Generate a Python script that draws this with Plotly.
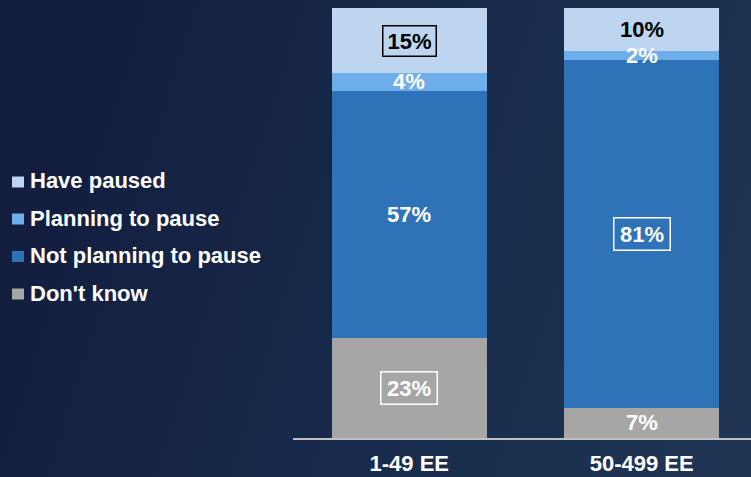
import base64
import plotly.graph_objects as go

# ---- data ----
categories = ["1-49 EE", "50-499 EE"]
dont_know = [23, 7]
not_planning = [57, 81]
planning = [4, 2]
have_paused = [15, 10]

# stacking order bottom -> top
series = [
    ("Don't know", dont_know),
    ("Not planning to pause", not_planning),
    ("Planning to pause", planning),
    ("Have paused", have_paused),
]

# ---- styles ----
colors = {
    "Don't know": "#A6A6A6",
    "Not planning to pause": "#2E73B8",
    "Planning to pause": "#6EAEEA",
    "Have paused": "#BDD5EE",
}
label_color = {
    "Don't know": "white",
    "Not planning to pause": "white",
    "Planning to pause": "white",
    "Have paused": "black",
}
# (series, category index) -> boxed label
boxed = {("Have paused", 0): "black", ("Don't know", 0): "white",
         ("Not planning to pause", 1): "white"}

W, H = 751, 477
ML, MR, MT, MB = 293, 0, 8, 39
PW, PH = W - ML - MR, H - MT - MB
FONT = "Liberation Sans, Arial, sans-serif"
FS = 22

fig = go.Figure()
for name, vals in series:
    fig.add_trace(go.Bar(
        x=categories, y=vals, name=name,
        marker=dict(color=colors[name], line=dict(width=0)),
        showlegend=False, hoverinfo="skip",
    ))

# value labels at segment centres (normalized to 100%)
annotations = []
for ci, cat in enumerate(categories):
    total = sum(vals[ci] for _, vals in series)
    cum = 0.0
    for name, vals in series:
        v = vals[ci]
        share = v / total * 100
        centre = cum + share / 2
        cum += share
        a = dict(x=cat, y=centre, xref="x", yref="y", text=f"{v}%",
                 showarrow=False, xanchor="center", yanchor="middle",
                 font=dict(family=FONT, size=FS, color=label_color[name], weight="bold"))
        if (name, ci) in boxed:
            big = name != "Have paused"
            a.update(bordercolor=boxed[(name, ci)], borderwidth=1.5, borderpad=2,
                     width=51 if big else 48, height=27 if big else 25)
        annotations.append(a)

# custom legend (top -> bottom)
legend_y = [181, 218, 255.5, 293]
shapes = []
for (name, _), py in zip(reversed(series), legend_y):
    shapes.append(dict(type="rect", xref="paper", yref="paper",
                       x0=(12 - ML) / PW, x1=(24 - ML) / PW,
                       y0=(MT + PH - (py + 6.5)) / PH, y1=(MT + PH - (py - 4.5)) / PH,
                       fillcolor=colors[name], line=dict(width=0)))
    annotations.append(dict(x=(27.5 - ML) / PW, y=(MT + PH - py) / PH, xref="paper", yref="paper",
                            text=name, showarrow=False, xanchor="left", yanchor="middle",
                            font=dict(family=FONT, size=FS, color="white", weight="bold")))

# gradient background
svg = ('<svg xmlns="http://www.w3.org/2000/svg" width="100" height="100" preserveAspectRatio="none" '
       'viewBox="0 0 100 100"><defs><linearGradient id="g" x1="0" y1="0.4" x2="1" y2="0.6">'
       '<stop offset="0" stop-color="#131d3e"/><stop offset="0.55" stop-color="#172a4b"/>'
       '<stop offset="1" stop-color="#1f3452"/></linearGradient></defs>'
       '<rect width="100" height="100" fill="url(#g)"/></svg>')
uri = "data:image/svg+xml;base64," + base64.b64encode(svg.encode()).decode()

fig.update_layout(
    width=W, height=H,
    margin=dict(l=ML, r=MR, t=MT, b=MB, pad=0),
    barmode="stack", barnorm="percent", bargap=0.333,
    paper_bgcolor="#172748", plot_bgcolor="rgba(0,0,0,0)",
    font=dict(family=FONT, size=FS, color="white", weight="bold"),
    xaxis=dict(range=[-0.5, 1.47], showline=True, linecolor="#BFBFBF", linewidth=2,
               showgrid=False, zeroline=False, ticks="", fixedrange=True, automargin=False,
               ticklabelstandoff=5,
               tickfont=dict(family=FONT, size=FS, color="white", weight="bold")),
    yaxis=dict(range=[0, 100], visible=False, fixedrange=True, automargin=False),
    annotations=annotations, shapes=shapes,
    images=[dict(source=uri, xref="paper", yref="paper",
                 x=-ML / PW, y=1 + MT / PH, sizex=W / PW, sizey=H / PH,
                 xanchor="left", yanchor="top", sizing="stretch", layer="below")],
    showlegend=False,
)

fig.write_html("out.html")
